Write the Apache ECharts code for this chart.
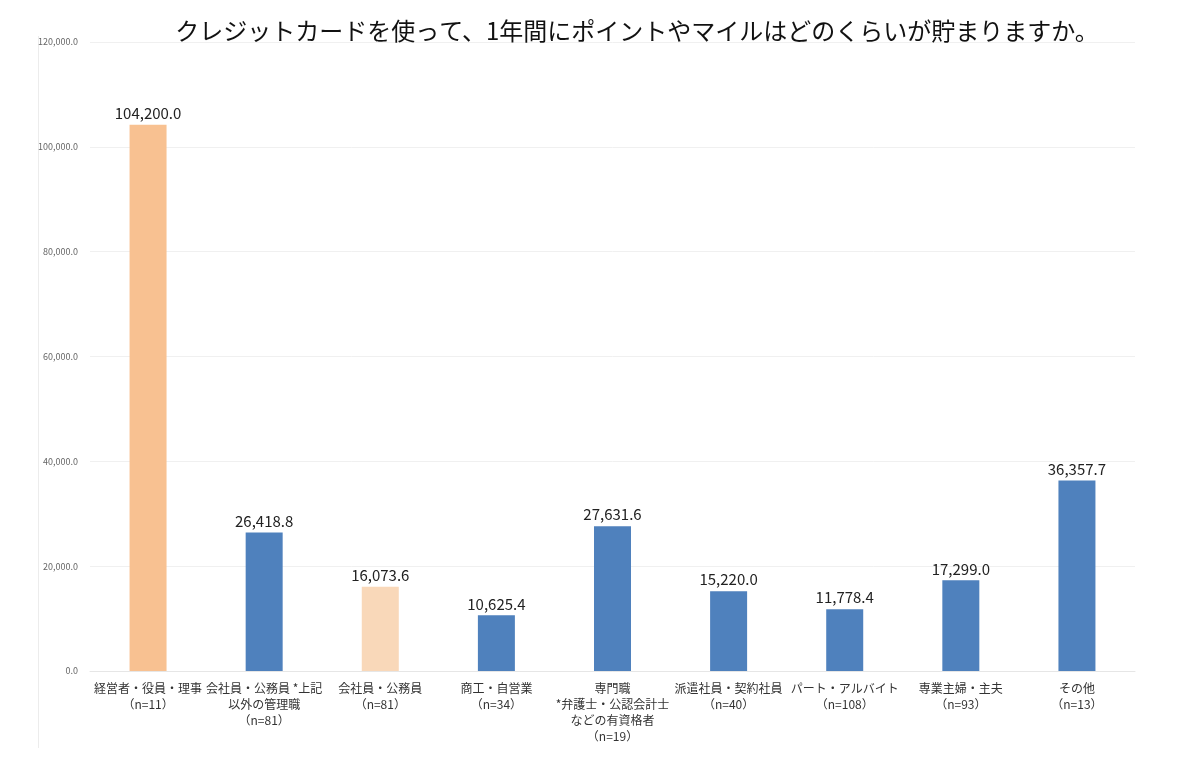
<!DOCTYPE html>
<html><head><meta charset="utf-8">
<script src="https://cdn.jsdelivr.net/npm/echarts@6/dist/echarts.min.js"></script>
<style>html,body{margin:0;padding:0;background:#fff}#c{width:1200px;height:759px}</style>
</head><body><div id="c"></div>
<script>
const title = 'クレジットカードを使って、1年間にポイントやマイルはどのくらいが貯まりますか。';
const categories = [
  '経営者・役員・理事\n（n=11）',
  '会社員・公務員 *上記\n以外の管理職\n（n=81）',
  '会社員・公務員\n（n=81）',
  '商工・自営業\n（n=34）',
  '専門職\n*弁護士・公認会計士\nなどの有資格者\n（n=19）',
  '派遣社員・契約社員\n（n=40）',
  'パート・アルバイト\n（n=108）',
  '専業主婦・主夫\n（n=93）',
  'その他\n（n=13）'
];
const values = [104200.0, 26418.8, 16073.6, 10625.4, 27631.6, 15220.0, 11778.4, 17299.0, 36357.7];
const barColors = ['#F8C191', '#4F81BD', '#F9D8B9', '#4F81BD', '#4F81BD', '#4F81BD', '#4F81BD', '#4F81BD', '#4F81BD'];

const fmt = v => v.toLocaleString('en-US', {minimumFractionDigits: 1, maximumFractionDigits: 1});
const chart = echarts.init(document.getElementById('c'));
chart.setOption({
  backgroundColor: '#fff',
  textStyle: {fontFamily: '"Noto Sans CJK JP", "Noto Sans", sans-serif'},
  title: {
    text: title, left: 632, top: 14, textAlign: 'center',
    textStyle: {fontSize: 24, fontWeight: 'normal', color: '#111', fontFamily: '"Noto Sans CJK JP", sans-serif'}
  },
  graphic: [{type: 'line', shape: {x1: 38.5, y1: 36, x2: 38.5, y2: 748}, style: {stroke: '#ececec', lineWidth: 1}}],
  grid: {left: 90, right: 65, top: 42, bottom: 88},
  xAxis: {
    type: 'category', data: categories,
    axisLine: {show: true, lineStyle: {color: '#e6e6e6'}},
    axisTick: {show: false},
    axisLabel: {interval: 0, fontSize: 12, color: '#333', lineHeight: 16, margin: 9}
  },
  yAxis: {
    type: 'value', min: 0, max: 120000, interval: 20000,
    axisLine: {show: false}, axisTick: {show: false},
    splitLine: {lineStyle: {color: '#f0f0f0'}},
    axisLabel: {formatter: v => fmt(v), fontSize: 9, color: '#666', margin: 12}
  },
  series: [{
    type: 'bar', barWidth: 37,
    data: values.map((v, i) => ({value: v, itemStyle: {color: barColors[i]}})),
    label: {show: true, position: 'top', formatter: p => fmt(p.value), fontSize: 15, color: '#222', distance: 4}
  }]
});
</script></body></html>
